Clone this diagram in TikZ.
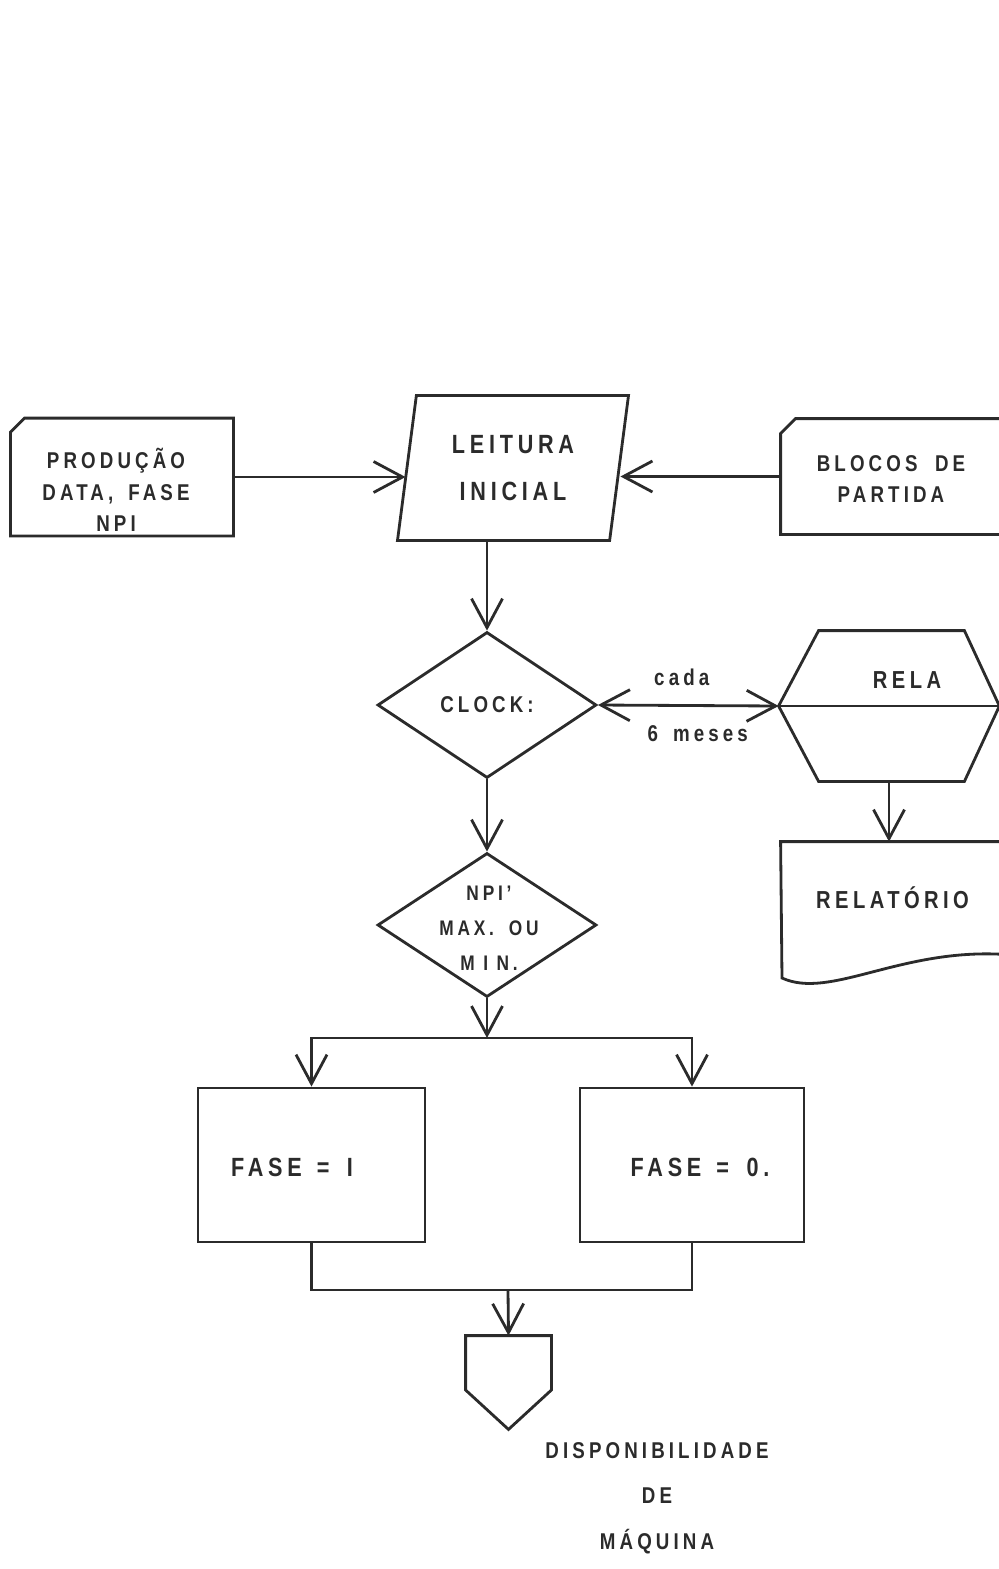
\documentclass[tikz,border=0pt]{standalone}
\usepackage{fontspec}
\setmainfont{Liberation Sans}[LetterSpace=18,FakeStretch=0.82]
\usetikzlibrary{shapes,arrows.meta}
\definecolor{ink}{HTML}{2B2B2B}

\begin{document}
\begin{tikzpicture}[x=0.2mm,y=-0.2mm,line width=1.6pt,color=ink,
    arr/.style={-{Straight Barb[length=5.8mm,width=6.2mm]}},
    arrs/.style={{Straight Barb[length=5.8mm,width=6.2mm]}-{Straight Barb[length=5.8mm,width=6.2mm]}},
    box/.style={rectangle,inner sep=0pt},
    txt/.style={align=center,font=\bfseries\fontsize{13}{18}\selectfont}]
    \useasboundingbox (0,0) rectangle (999,1569);

    % entradas
    \node[box,minimum width=44mm,minimum height=23mm] (prod) at (122,477) {};
    \draw (prod.south west) -- ([yshift=-2.8mm]prod.north west) -- ([xshift=2.8mm]prod.north west) -- (prod.north east) -- (prod.south east) -- cycle;
    \node[txt] (prodTxt) at (116,490) {PRODUÇÃO\\DATA,\hspace{3mm}FASE\\NPI};

    \node[box,minimum width=44mm,minimum height=22.6mm] (bloc) at (892,476.5) {};
    \draw (bloc.south west) -- ([yshift=-3mm]bloc.north west) -- ([xshift=3mm]bloc.north west) -- (bloc.north east) -- (bloc.south east) -- cycle;
    \node[txt] (blocTxt) at (891,479) {BLOCOS\hspace{3.5mm}DE\\PARTIDA};

    % leitura inicial
    \node[trapezium,trapezium left angle=74,trapezium right angle=106,trapezium stretches body,draw,inner sep=0pt,
          minimum width=46.2mm,minimum height=29mm,txt,font=\bfseries\fontsize{15}{27}\selectfont] (leit) at (513,468) {LEITURA\\INICIAL};
    \draw[arr] (prod.east) -- (prod.east -| leit.west);
    \draw[arr] (bloc.west) -- (bloc.west -| leit.east);

    % clock
    \node[diamond,draw,inner sep=0pt,minimum width=43.8mm,minimum height=29.2mm,txt] (clock) at (487,705) {CLOCK:};
    \draw[arr] (clock.north |- leit.south) -- (clock.north);

    % relatorio
    \node[box,minimum width=43.6mm,minimum height=29.6mm] (rela) at (889,706) {};
    \draw (rela.west) -- ([xshift=8mm]rela.north west) -- ([xshift=-7mm]rela.north east) -- (rela.east)
          -- ([xshift=-7mm]rela.south east) -- ([xshift=8mm]rela.south west) -- cycle;
    \draw (rela.west) -- (rela.east);
    \node[txt,font=\bfseries\fontsize{14}{18}\selectfont] (relaTxt) at (907,680) {RELA};
    \draw[arrs] (clock.east) -- node[txt,above=2.5mm,xshift=-1.3mm] (cada) {cada}
                               node[txt,below=2.5mm,xshift=1.9mm] (meses) {6\hspace{3mm}meses} (rela.west);

    \node[box,minimum width=44.2mm,minimum height=22mm,txt,font=\bfseries\fontsize{14}{18}\selectfont] (rel) at (892.5,898) {RELATÓRIO};
    \draw (rel.south east) -- (rel.north east) -- (rel.north west) -- (782,978)
          .. controls (830,1000) and (900,948) .. (rel.south east);
    \draw[arr] (rela.south) -- (rela.south |- rel.north);

    % npi
    \node[diamond,draw,inner sep=0pt,minimum width=43.8mm,minimum height=28.8mm] (npi) at (487,925) {};
    \node[txt,font=\bfseries\fontsize{12}{20}\selectfont] (npiTxt) at (489,928) {NPI’\\MAX.\hspace{3mm}OU\\M I N.};
    \draw[arr] (clock) -- (npi);

    % fases
    \coordinate (fork) at (487,1038);
    \draw[arr] (npi) -- (fork);
    \node[box,draw,minimum width=45.4mm,minimum height=30.8mm] (fase1) at (311.5,1165) {};
    \node[box,draw,minimum width=44.8mm,minimum height=30.8mm] (fase0) at (692,1165) {};
    \node[txt,font=\bfseries\fontsize{15}{18}\selectfont] (fase1Txt) at (292,1167) {FASE\hspace{3mm}=\hspace{3.5mm}I};
    \node[txt,font=\bfseries\fontsize{15}{18}\selectfont] (fase0Txt) at (700,1167) {FASE\hspace{3mm}=\hspace{3.5mm}0.};
    \draw[arr] (fork) -| (fase1);
    \draw[arr] (fork) -| (fase0);

    % disponibilidade
    \coordinate (merge) at (508,1290);
    \draw (fase1.south) |- (fase0.south |- merge) -- (fase0.south);
    \node[box,minimum width=16.6mm,minimum height=18.2mm] (disp) at (508.5,1382.5) {};
    \draw (disp.north west) -- (disp.north east) -- ([yshift=-1.5mm]disp.east) -- (disp.south)
          -- ([yshift=-1.5mm]disp.west) -- cycle;
    \draw[arr] (merge) -- (disp.north);
    \node[txt,font=\bfseries\fontsize{13}{26}\selectfont] (dispTxt) at (657,1498) {DISPONIBILIDADE\\DE\\MÁQUINA};
\end{tikzpicture}
\end{document}
